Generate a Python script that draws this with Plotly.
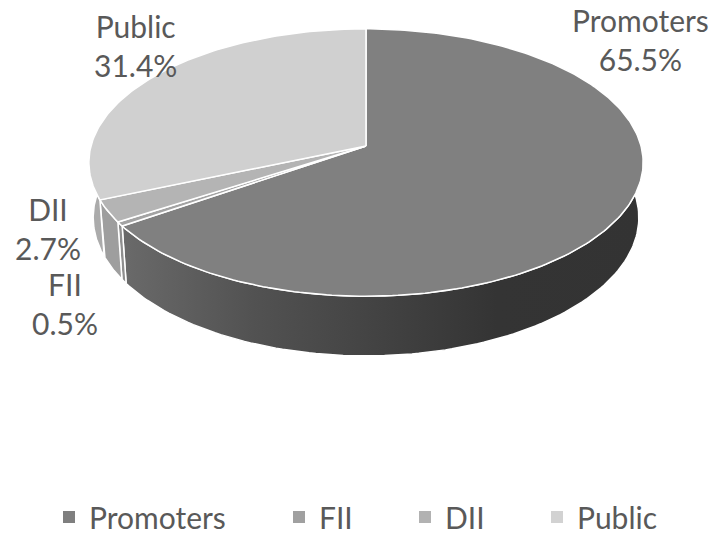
import numpy as np
import plotly.graph_objects as go

# ---- data ----
categories = ["Promoters", "FII", "DII", "Public"]
shares = [65.5, 0.5, 2.7, 31.4]
value_labels = ["65.5%", "0.5%", "2.7%", "31.4%"]

# ---- styles ----
top_colors = ["#808080", "#a3a3a3", "#b4b4b4", "#d0d0d0"]
side_scales = [
    [[0, "#6a6a6a"], [0.25, "#525252"], [0.72, "#343434"], [1, "#333333"]],
    [[0, "#8e8e8e"], [1, "#8e8e8e"]],
    [[0, "#9e9e9e"], [1, "#9e9e9e"]],
    [[0, "#ababab"], [1, "#ababab"]],
]
legend_colors = ["#7f7f7f", "#a0a0a0", "#b2b2b2", "#d2d2d2"]
FONT = "Lato"
TXT = "#595959"
FS = 30

# label placement (pixel space): centre x, middle y of the two-line label
label_pos = {"Promoters": (640, 39), "FII": (65, 303), "DII": (48, 228), "Public": (135, 45)}
# legend marker centres (pixel x)
legend_x = [69, 299, 425, 557]
legend_y = 517

# ---- 3D projection of the pie disc ----
W, Hpx = 715, 537
CX, CY = 366, 146
F = 1952.5
L = 7.1
PHI = np.radians(28.6)
DEPTH = 0.23


def project(theta, yw):
    X = np.sin(theta)
    Z = -np.cos(theta)
    yc = yw * np.cos(PHI) - Z * np.sin(PHI)
    d = L - (yw * np.sin(PHI) + Z * np.cos(PHI))
    return CX + F * X / d, CY - F * yc / d


total = sum(shares)
bounds = np.concatenate([[0], np.cumsum(shares)]) / total * 2 * np.pi
# visible part of the side wall (facing the viewer)
t_ext = np.arcsin(np.cos(PHI) / L)
vis_lo = np.pi / 2 - t_ext
vis_hi = 3 * np.pi / 2 + t_ext

fig = go.Figure()

# side walls
for i, name in enumerate(categories):
    a0, a1 = max(bounds[i], vis_lo), min(bounds[i + 1], vis_hi)
    if a1 <= a0:
        continue
    th = np.linspace(a0, a1, 120)
    xt, yt = project(th, 0.0)
    xb, yb = project(th[::-1], -DEPTH)
    xs = np.concatenate([xt, xb, xt[:1]])
    ys = np.concatenate([yt, yb, yt[:1]])
    fig.add_trace(go.Scatter(
        x=xs, y=ys, mode="lines", fill="toself",
        fillgradient=dict(type="horizontal", colorscale=side_scales[i]),
        line=dict(color="white", width=1.5),
        hoverinfo="skip", showlegend=False))

# top faces
for i, name in enumerate(categories):
    th = np.linspace(bounds[i], bounds[i + 1], max(4, int(360 * shares[i] / total)))
    xt, yt = project(th, 0.0)
    xs = np.concatenate([[CX], xt, [CX]])
    ys = np.concatenate([[CY], yt, [CY]])
    fig.add_trace(go.Scatter(
        x=xs, y=ys, mode="lines", fill="toself", fillcolor=top_colors[i],
        line=dict(color="white", width=1.5),
        name=name, hoverinfo="name", showlegend=False))

# legend entries (separate legends so spacing matches)
for i, name in enumerate(categories):
    lg = "legend" if i == 0 else f"legend{i + 1}"
    fig.add_trace(go.Scatter(
        x=[None], y=[None], mode="markers", name=name,
        marker=dict(symbol="square", size=12, color=legend_colors[i]),
        showlegend=True, legend=lg))

for i, name in enumerate(categories):
    cx, cy = label_pos[name]
    fig.add_annotation(
        x=cx, y=cy, xref="x", yref="y", showarrow=False,
        text=f"{name}<br>{value_labels[i]}", align="center",
        xanchor="center", yanchor="middle",
        font=dict(family=FONT, size=FS, color=TXT))

layout_legends = {}
for i in range(len(categories)):
    key = "legend" if i == 0 else f"legend{i + 1}"
    layout_legends[key] = dict(
        x=(legend_x[i] - 20) / W, xanchor="left",
        y=1 - legend_y / Hpx, yanchor="middle",
        orientation="h", bgcolor="rgba(0,0,0,0)", borderwidth=0,
        font=dict(family=FONT, size=FS, color=TXT))

fig.update_layout(
    width=W, height=Hpx, autosize=False,
    margin=dict(l=0, r=0, t=0, b=0, autoexpand=False),
    paper_bgcolor="white", plot_bgcolor="white",
    xaxis=dict(range=[0, W], visible=False, fixedrange=True),
    yaxis=dict(range=[Hpx, 0], visible=False, fixedrange=True),
    **layout_legends,
)

fig.write_html("out.html", config={"displayModeBar": False},
               post_script="document.body.style.margin='0';")
